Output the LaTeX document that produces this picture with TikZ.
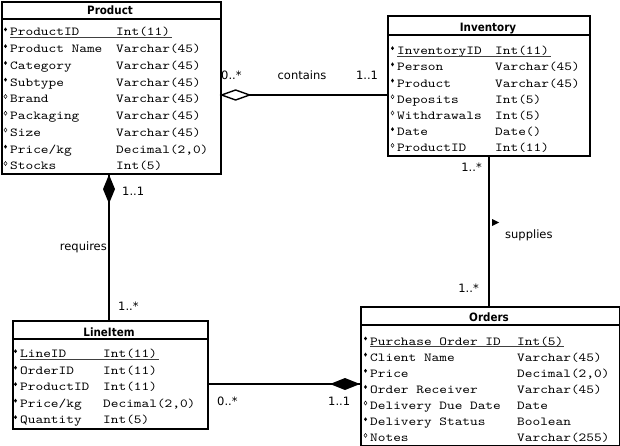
\documentclass[tikz,border=0pt]{standalone}
\usepackage{fontspec}
\setmainfont{DejaVu Sans}
\newfontfamily\monof{lmmono10-regular}[Extension=.otf, FakeStretch=1.2]
\newfontfamily\hdrf{DejaVu Sans}[FakeStretch=0.9]
\tikzset{
  x=1pt, y=-1pt,
  box/.style={draw, fill=white, line width=1.6pt, inner sep=0pt, anchor=north west},
  sep/.style={line width=1.6pt},
  hdr/.style={font=\hdrf\bfseries\fontsize{11.5}{13}\selectfont, inner sep=0pt, anchor=base},
  fld/.style={font=\monof\fontsize{12.2}{14}\selectfont, anchor=base west, inner sep=0pt},
  lbl/.style={font=\fontsize{11.5}{13}\selectfont, inner sep=0pt, text height=7.5pt, text depth=0.5pt},
  conn/.style={line width=1.5pt},
  pk/.style={line width=1pt, draw=black!75},
}
\newcommand\erow[7]{%
  \node[fld] (#1n) at (#2,#4) {#6};
  \node[fld] (#1t) at (#3,#4) {#7};
  \ifnum#5=1
    \fill (#2-4.5,#4-8.5) -- (#2-3,#4-6.5) -- (#2-4.5,#4-4.5) -- (#2-6,#4-6.5) -- cycle;
  \else
    \draw[line width=0.45pt] (#2-4.5,#4-8.5) -- (#2-3,#4-6.5) -- (#2-4.5,#4-4.5) -- (#2-6,#4-6.5) -- cycle;
  \fi
}
\begin{document}
\begin{tikzpicture}
\useasboundingbox (0,0) rectangle (620,446);

\coordinate (yC) at (0,95);
\coordinate (xR) at (109,0);
\coordinate (xS) at (489,0);
\coordinate (yL) at (0,384);

% boxes
\node[box, minimum width=219pt, minimum height=172pt] (product) at (1,1) {};
\node[box, minimum width=202pt, minimum height=140pt] (inventory) at (387,15) {};
\node[box, minimum width=195pt, minimum height=108pt] (lineitem) at (12,320) {};
\node[box, minimum width=259pt, minimum height=139pt] (orders) at (360,306) {};

% contains
\coordinate (cA) at (product.east |- yC);
\coordinate (cB) at (inventory.west |- yC);
\draw[conn] (cA) -- (cB);
\filldraw[fill=white, line width=1.4pt] (cA) -- ++(14,-5) -- ++(14,5) -- ++(-14,5) -- cycle;

% requires
\coordinate (rA) at (product.south -| xR);
\coordinate (rB) at (lineitem.north -| xR);
\draw[conn] (rA) -- (rB);
\fill (rA) -- ++(6,14.5) -- ++(-6,14.5) -- ++(-6,-14.5) -- cycle;

% supplies
\coordinate (sA) at (inventory.south -| xS);
\coordinate (sB) at (orders.north -| xS);
\draw[conn] (sA) -- (sB);
\fill (492,219) -- (499,222.5) -- (492,226) -- cycle;

% lineitem - orders
\coordinate (lA) at (lineitem.east |- yL);
\coordinate (lB) at (orders.west |- yL);
\draw[conn] (lA) -- (lB);
\fill (lB) -- ++(-15,-6) -- ++(-15,6) -- ++(15,6) -- cycle;

% labels
\node[lbl, anchor=west] (m1) at (221,76) {0..*};
\node[lbl] (m2) at (302,76) {contains};
\node[lbl] (m3) at (367,76) {1..1};
\node[lbl, anchor=west] (m4) at (122,192) {1..1};
\node[lbl, anchor=east] (m5) at (107,247) {requires};
\node[lbl, anchor=west] (m6) at (118,307) {1..*};
\node[lbl, anchor=east] (m7) at (482,168) {1..*};
\node[lbl, anchor=east] (m8) at (479,289) {1..*};
\node[lbl, anchor=west] (m9) at (505,235) {supplies};
\node[lbl, anchor=west] (m10) at (217,402) {0..*};
\node[lbl, anchor=west] (m11) at (328,402) {1..1};

% ---------- Product ----------
\draw[sep] (1,19) -- (220,19);
\node[hdr] (productT) at (110,15) {Product};
\erow{pr1}{10}{116}{36}{1}{ProductID}{Int(11)}
\erow{pr2}{10}{116}{52.75}{1}{Product Name}{Varchar(45)}
\erow{pr3}{10}{116}{69.5}{1}{Category}{Varchar(45)}
\erow{pr4}{10}{116}{86.25}{1}{Subtype}{Varchar(45)}
\erow{pr5}{10}{116}{103}{0}{Brand}{Varchar(45)}
\erow{pr6}{10}{116}{119.75}{0}{Packaging}{Varchar(45)}
\erow{pr7}{10}{116}{136.5}{0}{Size}{Varchar(45)}
\erow{pr8}{10}{116}{153.25}{1}{Price/kg}{Decimal(2,0)}
\erow{pr9}{10}{116}{170}{0}{Stocks}{Int(5)}
\draw[pk] ([yshift=-1.5pt]pr1n.base west) -- ([xshift=2pt,yshift=-1.5pt]pr1t.base east);

% ---------- Inventory ----------
\draw[sep] (387,35) -- (589,35);
\node[hdr] (inventoryT) at (488,32) {Inventory};
\erow{in1}{397}{495}{54.7}{1}{InventoryID}{Int(11)}
\erow{in2}{397}{495}{70.9}{1}{Person}{Varchar(45)}
\erow{in3}{397}{495}{87.1}{1}{Product}{Varchar(45)}
\erow{in4}{397}{495}{103.3}{0}{Deposits}{Int(5)}
\erow{in5}{397}{495}{119.5}{0}{Withdrawals}{Int(5)}
\erow{in6}{397}{495}{135.7}{1}{Date}{Date()}
\erow{in7}{397}{495}{151.9}{0}{ProductID}{Int(11)}
\draw[pk] ([yshift=-1.5pt]in1n.base west) -- ([xshift=2pt,yshift=-1.5pt]in1t.base east);

% ---------- LineItem ----------
\draw[sep] (12,339) -- (207,339);
\node[hdr] (lineitemT) at (109,336.5) {LineItem};
\erow{li1}{20}{103}{357.7}{1}{LineID}{Int(11)}
\erow{li2}{20}{103}{374.2}{1}{OrderID}{Int(11)}
\erow{li3}{20}{103}{390.7}{1}{ProductID}{Int(11)}
\erow{li4}{20}{103}{407.2}{1}{Price/kg}{Decimal(2,0)}
\erow{li5}{20}{103}{423.7}{1}{Quantity}{Int(5)}
\draw[pk] ([yshift=-1.5pt]li1n.base west) -- ([xshift=2pt,yshift=-1.5pt]li1t.base east);

% ---------- Orders ----------
\draw[sep] (360,325) -- (619,325);
\node[hdr] (ordersT) at (489,321.5) {Orders};
\erow{or1}{370}{517}{345}{1}{Purchase Order ID}{Int(5)}
\erow{or2}{370}{517}{361.15}{1}{Client Name}{Varchar(45)}
\erow{or3}{370}{517}{377.3}{1}{Price}{Decimal(2,0)}
\erow{or4}{370}{517}{393.45}{1}{Order Receiver}{Varchar(45)}
\erow{or5}{370}{517}{409.6}{0}{Delivery Due Date}{Date}
\erow{or6}{370}{517}{425.75}{1}{Delivery Status}{Boolean}
\erow{or7}{370}{517}{441.9}{0}{Notes}{Varchar(255)}
\draw[pk] ([yshift=-1.5pt]or1n.base west) -- ([xshift=0pt,yshift=-1.5pt]or1t.base east);
\end{tikzpicture}
\end{document}
